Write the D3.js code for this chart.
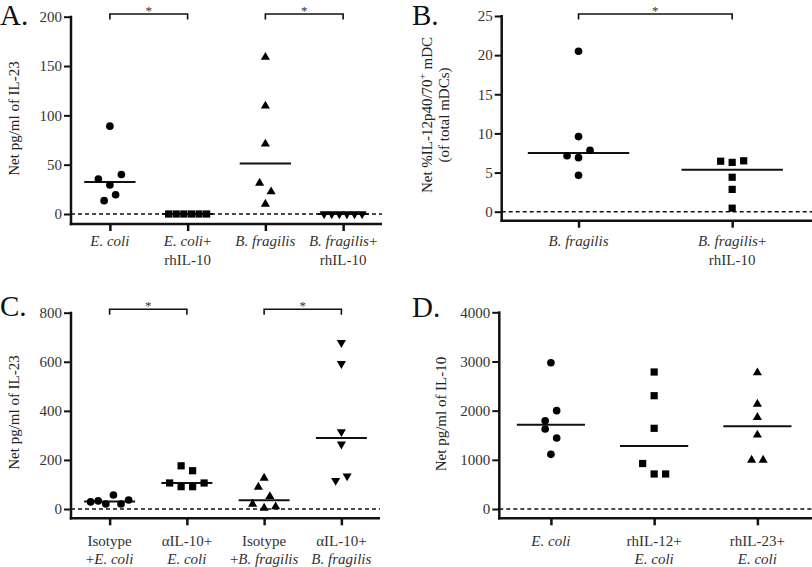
<!DOCTYPE html>
<html><head><meta charset="utf-8">
<script src="https://cdn.jsdelivr.net/npm/d3@7"></script>
<style>
body{margin:0;background:#fff}
svg{display:block}
svg text{font-family:"Liberation Serif","Times New Roman",serif !important;fill:#222}
</style>
</head><body>
<svg id="chart" width="812" height="567"></svg>
<script>
// ---------------- DATA ----------------
// Panel A: Net pg/ml of IL-23
const catsA = [["<i>E. coli</i>"], ["<i>E. coli</i>+", "rhIL-10"], ["<i>B. fragilis</i>"], ["<i>B. fragilis</i>+", "rhIL-10"]];
const valsA = [
  [89, 35.5, 29.5, 40, 13.5, 19.5],
  [0, 0, 0, 0, 0, 0],
  [159, 109.5, 71, 31.4, 22.6, 10],
  [0, 0, 0, 0, 0, 0]
];
const ticksA = [0, 50, 100, 150, 200];
const sigA = [[0, 1], [2, 3]];

// Panel B: Net %IL-12p40/70+ mDC
const catsB = [["<i>B. fragilis</i>"], ["<i>B. fragilis</i>+", "rhIL-10"]];
const valsB = [
  [20.5, 9.6, 7.15, 6.9, 7.85, 4.65],
  [6.45, 6.3, 6.5, 4.4, 2.85, 0.45]
];
const ticksB = [0, 5, 10, 15, 20, 25];
const sigB = [[0, 1]];

// Panel C: Net pg/ml of IL-23
const catsC = [["Isotype", "+<i>E. coli</i>"], ["αIL-10+", "<i>E. coli</i>"], ["Isotype", "+<i>B. fragilis</i>"], ["αIL-10+", "<i>B. fragilis</i>"]];
const valsC = [
  [29, 33, 20.3, 56.9, 20.3, 36.6],
  [176, 156, 106, 91, 91, 106],
  [126, 89.5, 51, 20.3, 4, 9.4],
  [678, 592.5, 314.4, 264.3, 116, 134.2]
];
const ticksC = [0, 200, 400, 600, 800];
const sigC = [[0, 1], [2, 3]];

// Panel D: Net pg/ml of IL-10
const catsD = [["<i>E. coli</i>"], ["rhIL-12+", "<i>E. coli</i>"], ["rhIL-23+", "<i>E. coli</i>"]];
const valsD = [
  [2975, 1795, 1999, 1627, 1444, 1112],
  [2786, 2304, 1641, 925, 712, 712],
  [2771, 2135, 1865, 1505, 996, 996]
];
const ticksD = [0, 1000, 2000, 3000, 4000];

// ---------------- LAYOUT ----------------
const svg = d3.select("#chart");
const FONT = "Liberation Serif, Times New Roman, serif";

const panels = [
  {letter: "A.", lx: 0, ly: 25, cats: catsA, vals: valsA, ticks: ticksA, sig: sigA,
   shapes: ["circle", "square", "triangle", "down"],
   x0: 71, x1: 382, xEnd: 382, yTop: 16.7, yZero: 214, axisY: 224, labelY: 246, lineH: 19, brY: 14,
   title: [{text: "Net pg/ml of IL-23", x: 19, y: 118.5}]},
  {letter: "B.", lx: 412, ly: 25, cats: catsB, vals: valsB, ticks: ticksB, sig: sigB,
   shapes: ["circle", "square"],
   x0: 501.7, x1: 812, xEnd: 809, yTop: 16, yZero: 211.7, axisY: 220.7, labelY: 246, lineH: 19, brY: 14,
   title: [{text: "Net %IL-12p40/70", sup: "+", after: " mDC", x: 432, y: 115}, {text: "(of total mDCs)", x: 449, y: 115}]},
  {letter: "C.", lx: 0, ly: 316, cats: catsC, vals: valsC, ticks: ticksC, sig: sigC,
   shapes: ["circle", "square", "triangle", "down"],
   x0: 71, x1: 380, xEnd: 380, yTop: 312.7, yZero: 509, axisY: 518.3, labelY: 546, lineH: 17.5, brY: 309.3,
   title: [{text: "Net pg/ml of IL-23", x: 19, y: 412.5}]},
  {letter: "D.", lx: 412, ly: 317, cats: catsD, vals: valsD, ticks: ticksD, sig: [],
   shapes: ["circle", "square", "triangle"],
   x0: 499.3, x1: 812, xEnd: 809, yTop: 312.3, yZero: 509, axisY: 518.3, labelY: 546, lineH: 17.5, brY: 0,
   title: [{text: "Net pg/ml of IL-10", x: 446, y: 414}]}
];

const symbolFor = {
  circle: d3.symbol(d3.symbolCircle, 46),
  square: d3.symbol(d3.symbolSquare, 52),
  triangle: d3.symbol(d3.symbolTriangle, 36),
  down: d3.symbol(d3.symbolTriangle, 36)
};

function rich(sel, str) {
  const parts = str.split(/(<i>.*?<\/i>)/).filter(s => s.length);
  parts.forEach(p => {
    const m = p.match(/^<i>(.*)<\/i>$/);
    sel.append("tspan").style("font-style", m ? "italic" : "normal").text(m ? m[1] : p);
  });
}

// column scatter: group points with similar heights into centred rows
function swarm(vals, y, h = 11, s = 11.5, maxSpread = 38) {
  const pts = vals.map((v, i) => ({v, i, py: y(v), dx: 0}));
  const sorted = pts.slice().sort((a, b) => b.py - a.py || a.i - b.i);
  const rows = [];
  let cur = null;
  for (const p of sorted) {
    if (!cur || cur.start - p.py > h) { cur = {start: p.py, pts: []}; rows.push(cur); }
    cur.pts.push(p);
  }
  rows.forEach(r => {
    r.pts.sort((a, b) => a.i - b.i);
    const n = r.pts.length;
    const sp = n > 1 ? Math.min(s, maxSpread / (n - 1)) : 0;
    r.pts.forEach((p, k) => p.dx = (k - (n - 1) / 2) * sp);
  });
  return pts;
}

panels.forEach(P => {
  const g = svg.append("g");
  const n = P.cats.length;
  const x = d3.scalePoint().domain(d3.range(n)).range([P.x0, P.xEnd]).padding(0.5);
  const y = d3.scaleLinear().domain([0, d3.max(P.ticks)]).range([P.yZero, P.yTop]);
  const step = x.step();

  // panel letter
  g.append("text").attr("x", P.lx).attr("y", P.ly).style("font-size", "29px").style("fill", "#111").text(P.letter);

  // y axis
  const ya = g.append("g").attr("transform", `translate(${P.x0},0)`)
    .call(d3.axisLeft(y).tickValues(P.ticks).tickSize(7).tickPadding(2).tickFormat(d3.format("d")));
  ya.attr("font-family", FONT);
  ya.select(".domain").remove();
  ya.selectAll(".tick line").attr("stroke", "#111").attr("stroke-width", 2);
  ya.selectAll(".tick text").style("font-size", "15px").style("fill", "#333");
  g.append("line").attr("x1", P.x0).attr("x2", P.x0).attr("y1", P.yTop - 1).attr("y2", P.axisY + 1.25)
    .attr("stroke", "#111").attr("stroke-width", 2.5);

  // x axis
  const xa = g.append("g").attr("transform", `translate(0,${P.axisY})`)
    .call(d3.axisBottom(x).tickSize(7).tickFormat(""));
  xa.select(".domain").remove();
  xa.selectAll(".tick line").attr("stroke", "#111").attr("stroke-width", 2.5);
  g.append("line").attr("x1", P.x0 - 1.25).attr("x2", P.x1).attr("y1", P.axisY).attr("y2", P.axisY)
    .attr("stroke", "#111").attr("stroke-width", 2.5);

  // category labels
  P.cats.forEach((lines, i) => {
    lines.forEach((ln, k) => {
      const t = g.append("text").attr("x", x(i)).attr("y", P.labelY + k * P.lineH)
        .attr("text-anchor", "middle").style("font-size", "15px").style("fill", "#333");
      rich(t, ln);
    });
  });

  // dashed zero line
  g.append("line").attr("x1", P.x0).attr("x2", P.x1).attr("y1", y(0)).attr("y2", y(0))
    .attr("stroke", "#111").attr("stroke-width", 1.5).attr("stroke-dasharray", "4,3");

  // medians + points
  P.vals.forEach((vals, i) => {
    const med = d3.median(vals);
    const hw = step * 0.33;
    g.append("line").attr("x1", x(i) - hw).attr("x2", x(i) + hw).attr("y1", y(med)).attr("y2", y(med))
      .attr("stroke", "#111").attr("stroke-width", 2);
    const pts = swarm(vals, y);
    const shape = P.shapes[i];
    g.selectAll(null).data(pts).enter().append("path")
      .attr("d", symbolFor[shape]())
      .attr("transform", d => `translate(${x(i) + d.dx},${d.py})` + (shape === "down" ? " rotate(180)" : ""))
      .attr("fill", "#000");
  });

  // significance brackets
  P.sig.forEach(([a, b]) => {
    const xa1 = x(a), xb1 = x(b), yy = P.brY;
    g.append("path").attr("d", `M${xa1},${yy + 5.5}V${yy}H${xb1}V${yy + 5.5}`)
      .attr("fill", "none").attr("stroke", "#111").attr("stroke-width", 1.6);
    g.append("text").attr("x", (xa1 + xb1) / 2).attr("y", yy + 1).attr("text-anchor", "middle")
      .style("font-size", "13px").style("fill", "#333").text("*");
  });

  // axis titles
  P.title.forEach(T => {
    const t = g.append("text").attr("transform", `translate(${T.x},${T.y}) rotate(-90)`)
      .attr("text-anchor", "middle").style("font-size", "15px").style("fill", "#222");
    t.append("tspan").text(T.text);
    if (T.sup) {
      t.append("tspan").attr("dy", -6).style("font-size", "11px").text(T.sup);
      t.append("tspan").attr("dy", 6).text(T.after);
    }
  });
});
</script>
</body></html>
